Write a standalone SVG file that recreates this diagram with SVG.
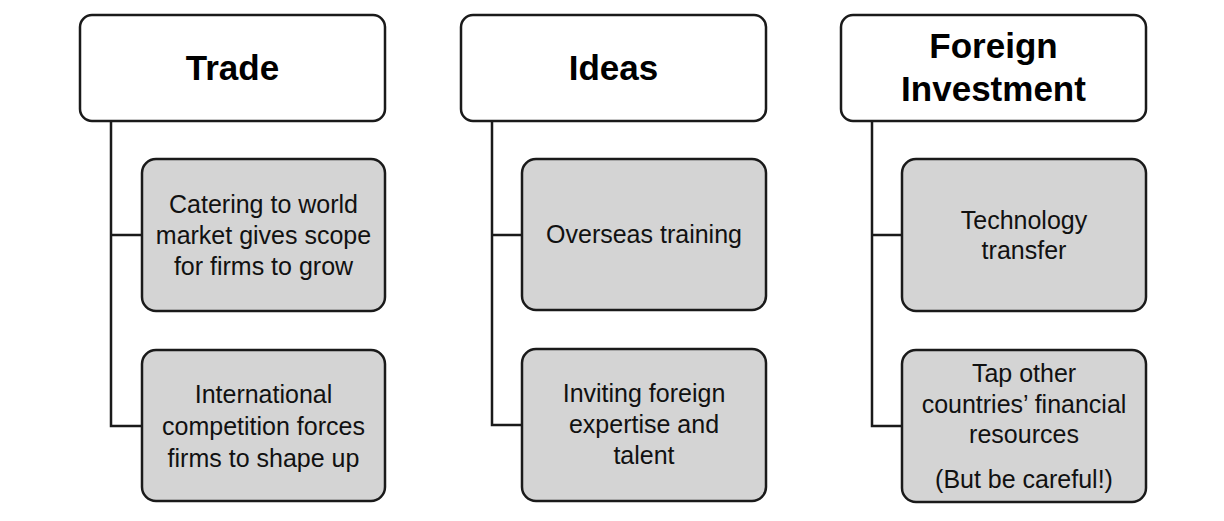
<svg xmlns="http://www.w3.org/2000/svg" width="1224" height="521" viewBox="0 0 1224 521">
<style>
.hdr{fill:#ffffff;stroke:#1a1a1a;stroke-width:2.5}
.box{fill:#d4d4d4;stroke:#1a1a1a;stroke-width:2.5}
.ht{font-family:"Liberation Sans",Arial,sans-serif;font-weight:bold;font-size:35px;fill:#000;text-anchor:middle}
.bt{font-family:"Liberation Sans",Arial,sans-serif;font-size:25px;fill:#111;text-anchor:middle}
.conn{fill:none;stroke:#1a1a1a;stroke-width:2.5}
</style>
<rect width="1224" height="521" fill="#ffffff"/>
<g id="connectors">
<path class="conn" d="M111 121 V426 H142 M111 235 H142"/>
<path class="conn" d="M492 121 V425 H522 M492 235 H522"/>
<path class="conn" d="M872 121 V426 H902 M872 235 H902"/>
</g>
<g id="trade">
<rect class="hdr" x="80" y="15" width="305" height="106" rx="12"/>
<text class="ht" x="232.5" y="80">Trade</text>
</g>
<g id="trade-1">
<rect class="box" x="142" y="159" width="243" height="152" rx="14"/>
<text class="bt" x="263.5" y="213">Catering to world</text>
<text class="bt" x="263.5" y="244">market gives scope</text>
<text class="bt" x="263.5" y="275">for firms to grow</text>
</g>
<g id="trade-2">
<rect class="box" x="142" y="350" width="243" height="151" rx="14"/>
<text class="bt" x="263.5" y="403">International</text>
<text class="bt" x="263.5" y="435">competition forces</text>
<text class="bt" x="263.5" y="467">firms to shape up</text>
</g>
<g id="ideas">
<rect class="hdr" x="461" y="15" width="305" height="106" rx="12"/>
<text class="ht" x="613.5" y="80">Ideas</text>
</g>
<g id="ideas-1">
<rect class="box" x="522" y="159" width="244" height="151" rx="14"/>
<text class="bt" x="644" y="243">Overseas training</text>
</g>
<g id="ideas-2">
<rect class="box" x="522" y="349" width="244" height="152" rx="14"/>
<text class="bt" x="644" y="402">Inviting foreign</text>
<text class="bt" x="644" y="433">expertise and</text>
<text class="bt" x="644" y="464">talent</text>
</g>
<g id="foreign">
<rect class="hdr" x="841" y="15" width="305" height="106" rx="12"/>
<text class="ht" x="993.5" y="58">Foreign</text>
<text class="ht" x="993.5" y="101">Investment</text>
</g>
<g id="foreign-1">
<rect class="box" x="902" y="159" width="244" height="152" rx="14"/>
<text class="bt" x="1024" y="229">Technology</text>
<text class="bt" x="1024" y="259">transfer</text>
</g>
<g id="foreign-2">
<rect class="box" x="902" y="350" width="244" height="152" rx="14"/>
<text class="bt" x="1024" y="382">Tap other</text>
<text class="bt" x="1024" y="413">countries’ financial</text>
<text class="bt" x="1024" y="443">resources</text>
<text class="bt" x="1024" y="488">(But be careful!)</text>
</g>
</svg>
